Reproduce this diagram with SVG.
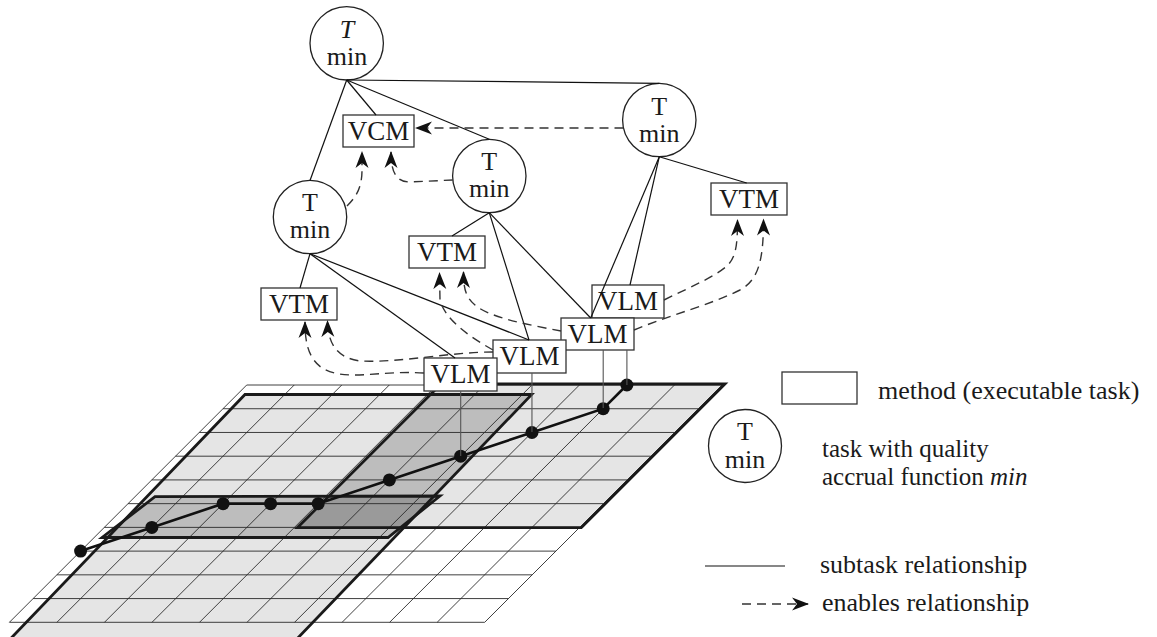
<svg xmlns="http://www.w3.org/2000/svg" width="1157" height="637" viewBox="0 0 1157 637">
<style>
.t{font-family:"Liberation Serif","Times New Roman",serif;font-size:26px;fill:#1a1a1a;text-anchor:middle}
.b{font-family:"Liberation Serif","Times New Roman",serif;font-size:27px;fill:#1a1a1a;text-anchor:middle}
.lg{font-family:"Liberation Serif","Times New Roman",serif;font-size:26px;fill:#1a1a1a}
.lg2{font-family:"Liberation Serif","Times New Roman",serif;font-size:25px;fill:#1a1a1a}
.box{fill:#fff;stroke:#333;stroke-width:1.3}
.circ{fill:#fff;stroke:#222;stroke-width:1.3}
.sub{stroke:#111;stroke-width:1.2;fill:none}
.en{stroke:#333;stroke-width:1.4;fill:none;stroke-dasharray:9 6;marker-end:url(#ah)}
.gl{stroke:#2a2a2a;stroke-width:0.9;fill:none}
.thick{stroke:#1a1a1a;stroke-width:2.8;fill:none;stroke-linejoin:miter}
.vl{stroke:#555;stroke-width:1.1}
.dot{fill:#111}
</style>
<defs>
<marker id="ah" markerWidth="18" markerHeight="15" refX="16" refY="7" orient="auto" markerUnits="userSpaceOnUse">
<path d="M0,0.5 L17,7 L0,13.5 L5,7 Z" fill="#111"/>
</marker>
<clipPath id="clipC"><polygon points="430.5,394.5 531.7,394.5 403.8,527.7 297.3,527.7"/></clipPath>
</defs>

<g id="grid">
<polygon points="245,394.5 531.7,394.5 295.9,640 9.3,640" fill="#e5e5e5"/>
<polygon points="441,384 725,384 581.3,527.7 297.3,527.7" fill="#e5e5e5"/>
<polygon points="430.5,394.5 531.7,394.5 403.8,527.7 297.3,527.7" fill="#bdbdbd"/>
<polygon points="155,496.7 440,496 388,537.5 102,537.5" fill="#bdbdbd"/>
<polygon points="155,496.7 440,496 388,537.5 102,537.5" fill="#9a9a9a" clip-path="url(#clipC)"/>
<g class="gl">
<line x1="246.7" y1="385" x2="722" y2="385"/>
<line x1="222.97" y1="408.73" x2="698.27" y2="408.73"/>
<line x1="199.24" y1="432.46" x2="674.54" y2="432.46"/>
<line x1="175.51" y1="456.19" x2="650.81" y2="456.19"/>
<line x1="151.78" y1="479.92" x2="627.08" y2="479.92"/>
<line x1="128.05" y1="503.65" x2="603.35" y2="503.65"/>
<line x1="104.32" y1="527.38" x2="579.62" y2="527.38"/>
<line x1="80.59" y1="551.11" x2="555.89" y2="551.11"/>
<line x1="56.86" y1="574.84" x2="532.16" y2="574.84"/>
<line x1="33.13" y1="598.57" x2="508.43" y2="598.57"/>
<line x1="9.4" y1="622.3" x2="484.7" y2="622.3"/>
<line x1="246.7" y1="385" x2="9.4" y2="622.3"/>
<line x1="294.23" y1="385" x2="56.93" y2="622.3"/>
<line x1="341.76" y1="385" x2="104.46" y2="622.3"/>
<line x1="389.29" y1="385" x2="151.99" y2="622.3"/>
<line x1="436.82" y1="385" x2="199.52" y2="622.3"/>
<line x1="484.35" y1="385" x2="247.05" y2="622.3"/>
<line x1="531.88" y1="385" x2="294.58" y2="622.3"/>
<line x1="579.41" y1="385" x2="342.11" y2="622.3"/>
<line x1="626.94" y1="385" x2="389.64" y2="622.3"/>
<line x1="674.47" y1="385" x2="437.17" y2="622.3"/>
<line x1="722" y1="385" x2="484.7" y2="622.3"/>
</g>
<polyline class="thick" points="9.3,640 245,394.5 531.7,394.5 295.9,640"/>
<polygon class="thick" points="441,384 725,384 581.3,527.7 297.3,527.7"/>
<polygon class="thick" points="155,496.7 440,496 388,537.5 102,537.5"/>
<polyline points="80.6,551.1 151.85,527.4 223.1,503.65 270.6,503.65 318.2,503.65 389.4,479.9 460.7,456.2 531.95,432.5 603.2,408.7 626.9,385" fill="none" stroke="#111" stroke-width="2.6"/>
<g class="dot">
<circle cx="80.6" cy="551.1" r="6.5"/>
<circle cx="151.85" cy="527.4" r="6.5"/>
<circle cx="223.1" cy="503.65" r="6.5"/>
<circle cx="270.6" cy="503.65" r="6.5"/>
<circle cx="318.2" cy="503.65" r="6.5"/>
<circle cx="389.4" cy="479.9" r="6.5"/>
<circle cx="460.7" cy="456.2" r="6.5"/>
<circle cx="531.95" cy="432.5" r="6.5"/>
<circle cx="603.2" cy="408.7" r="6.5"/>
<circle cx="626.9" cy="385" r="6.5"/>
</g>
</g>

<g id="node-T-top"><circle class="circ" cx="346.7" cy="43.3" r="36.7"/><text class="t" x="347" y="38" font-style="italic">T</text><text class="t" x="347" y="65">min</text></g>
<g id="node-T-right"><circle class="circ" cx="659.3" cy="120" r="36.7"/><text class="t" x="659.3" y="115">T</text><text class="t" x="659.3" y="142">min</text></g>
<g id="node-T-mid"><circle class="circ" cx="489.3" cy="176" r="36.7"/><text class="t" x="489.3" y="170">T</text><text class="t" x="489.3" y="197">min</text></g>
<g id="node-T-left"><circle class="circ" cx="310" cy="217" r="36.7"/><text class="t" x="310" y="211">T</text><text class="t" x="310" y="238">min</text></g>
<g id="node-VCM"><rect class="box" x="343" y="115" width="71" height="32"/><text class="b" x="378.5" y="140">VCM</text></g>
<g id="node-VTM-right"><rect class="box" x="711" y="183" width="76" height="32"/><text class="b" x="749" y="208">VTM</text></g>
<g id="node-VTM-mid"><rect class="box" x="409" y="236" width="76" height="32"/><text class="b" x="447" y="261">VTM</text></g>
<g id="node-VTM-left"><rect class="box" x="261" y="288" width="76" height="32"/><text class="b" x="299" y="313">VTM</text></g>
<g id="node-VLM4"><rect class="box" x="592" y="285" width="72" height="33"/><text class="b" x="628" y="310">VLM</text></g>
<g id="node-VLM3"><rect class="box" x="561" y="318" width="73" height="32"/><text class="b" x="597.5" y="343">VLM</text></g>
<g id="node-VLM2"><rect class="box" x="493" y="340" width="73" height="33"/><text class="b" x="529.5" y="365">VLM</text></g>
<g id="node-VLM1"><rect class="box" x="424" y="358" width="73" height="33"/><text class="b" x="460.5" y="383">VLM</text></g>

<g id="connectors">
<line class="sub" x1="346.7" y1="80" x2="310" y2="180.5"/>
<line class="sub" x1="346.7" y1="80" x2="376" y2="115"/>
<line class="sub" x1="346.7" y1="80" x2="489.3" y2="139.3"/>
<line class="sub" x1="346.7" y1="80" x2="659.3" y2="83.3"/>
<line class="sub" x1="659.3" y1="156.7" x2="746.7" y2="183"/>
<line class="sub" x1="659.3" y1="156.7" x2="630" y2="285"/>
<line class="sub" x1="659.3" y1="156.7" x2="590.7" y2="318"/>
<line class="sub" x1="489.3" y1="212.7" x2="452" y2="236"/>
<line class="sub" x1="489.3" y1="212.7" x2="529" y2="340"/>
<line class="sub" x1="489.3" y1="212.7" x2="590.7" y2="318"/>
<line class="sub" x1="310" y1="253.7" x2="300" y2="288"/>
<line class="sub" x1="310" y1="253.7" x2="455" y2="358"/>
<line class="sub" x1="310" y1="253.7" x2="529" y2="340"/>
<line class="vl" x1="460.7" y1="391" x2="460.7" y2="456"/>
<line class="vl" x1="531.95" y1="373" x2="531.95" y2="432"/>
<line class="vl" x1="603.2" y1="350" x2="603.2" y2="408"/>
<line class="vl" x1="626.9" y1="350" x2="626.9" y2="385"/>
<path class="en" d="M623.5,128 L416,128"/>
<path class="en" d="M452.8,180 L410,182 C396,182 391,172 391,152"/>
<path class="en" d="M347,206 C356,197 362,188 362,170 L362,152"/>
<path class="en" d="M424,373 C380,370 345,382 322,368 C308,358 305,342 305,322"/>
<path class="en" d="M493,352 C450,352 400,363 360,361 C338,358 328,345 327.5,321"/>
<path class="en" d="M493,350 C470,337 445,320 440,300 L439.5,273"/>
<path class="en" d="M561,331 C530,325 490,318 475,305 C466,297 463.5,290 463.5,272"/>
<path class="en" d="M664,300 C690,287 715,277 728,265 C736,256 737.5,245 737.5,220"/>
<path class="en" d="M634,330 C670,315 710,305 740,290 C758,280 763.5,262 763.5,219.5"/>
</g>

<g id="legend">
<rect class="box" x="782" y="372" width="75" height="32"/>
<text class="lg" x="878" y="399">method (executable task)</text>
<circle class="circ" cx="745" cy="446" r="36.5"/>
<text class="t" x="745" y="440">T</text>
<text class="t" x="745" y="468">min</text>
<text class="lg2" x="822" y="457">task with quality</text>
<text class="lg2" x="822" y="485">accrual function <tspan font-style="italic">min</tspan></text>
<line class="sub" x1="705" y1="566" x2="785" y2="566"/>
<text class="lg" x="820" y="573">subtask relationship</text>
<path class="en" d="M742,604 L808,604"/>
<text class="lg" x="822" y="611">enables relationship</text>
</g>
</svg>
